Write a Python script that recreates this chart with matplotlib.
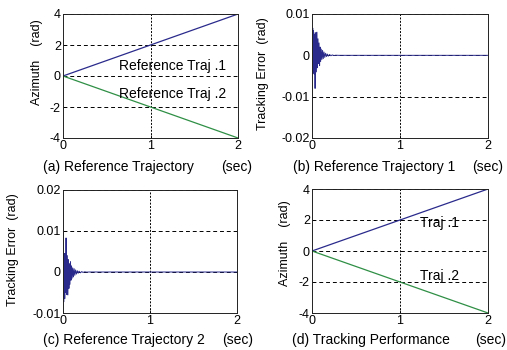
import matplotlib
matplotlib.use("Agg")
import matplotlib.pyplot as plt

plt.rcParams["font.family"] = ["Liberation Sans", "DejaVu Sans"]
FS_TICK = 9
FS_TEXT = 10

# Reference trajectories (rad) vs time (sec)
t_ref = [0, 2]
traj1 = [0, 4]
traj2 = [0, -4]

# Tracking error, trajectory 1 (rad)
t_err1 = [0, 0.002, 0.005, 0.008, 0.011, 0.014, 0.017, 0.020, 0.023, 0.026,
          0.029, 0.032, 0.035, 0.038, 0.041, 0.044, 0.050, 0.056, 0.062, 0.068,
          0.074, 0.080, 0.086, 0.092, 0.098, 0.105, 0.112, 0.120, 0.128, 0.136,
          0.145, 0.155, 0.165, 0.175, 0.185, 0.200, 0.215, 0.230, 0.250, 0.270,
          0.300, 2.0]
err1 = [-0.015, 0.006, -0.004, 0.0066, -0.0045, 0.006, -0.004, 0.0055, -0.004, 0.005,
        -0.0045, 0.0045, -0.008, 0.004, -0.003, 0.0055, -0.004, 0.0056, -0.003, 0.004,
        -0.002, 0.003, -0.0025, 0.002, -0.0015, 0.0015, -0.001, 0.0012, -0.0008, 0.0008,
        -0.0005, 0.0005, -0.0003, 0.0003, -0.0002, 0.0002, -0.0001, 0.0001, -0.00005, 0.00003,
        0, 0]

# Tracking error, trajectory 2 (rad)
t_err2 = [0, 0.002, 0.005, 0.008, 0.011, 0.014, 0.017, 0.020, 0.023, 0.026,
          0.029, 0.032, 0.035, 0.038, 0.041, 0.044, 0.050, 0.056, 0.062, 0.068,
          0.074, 0.080, 0.086, 0.092, 0.098, 0.105, 0.112, 0.120, 0.128, 0.136,
          0.145, 0.155, 0.165, 0.175, 0.185, 0.200, 0.215, 0.230, 0.250, 0.270,
          0.300, 2.0]
err2 = [0.015, -0.007, 0.0047, -0.0073, 0.0045, -0.006, 0.0045, -0.0065, 0.004, -0.005,
        0.0045, -0.0045, 0.0083, -0.004, 0.003, -0.0055, 0.004, -0.0056, 0.003, -0.004,
        0.002, -0.003, 0.0025, -0.002, 0.0015, -0.0015, 0.001, -0.0012, 0.0008, -0.0008,
        0.0005, -0.0005, 0.0003, -0.0003, 0.0002, -0.0002, 0.0001, -0.0001, 0.00005, -0.00003,
        0, 0]

BLUE = "#2a2a8c"
GREEN = "#2f8f45"

fig = plt.figure(figsize=(5.07, 3.5), dpi=100)
W, H = 507, 350


def make_axes(x0, y0, x1, y1):
    return fig.add_axes([x0 / W, 1 - y1 / H, (x1 - x0) / W, (y1 - y0) / H])


def style(ax, yticks, ylim):
    ax.set_xlim(0, 2)
    ax.set_ylim(*ylim)
    ax.set_xticks([0, 1, 2])
    ax.set_xticklabels(["0", "1", "2"])
    ax.set_yticks(yticks)
    ax.tick_params(direction="in", length=2, labelsize=FS_TICK, pad=1.5, width=0.6)
    for y in yticks:
        ax.axhline(y, color="black", lw=0.7, ls=(0, (4, 3)), zorder=0)
    ax.axvline(1, color="black", lw=0.7, ls=(0, (2, 1.5)), zorder=0)
    for s in ax.spines.values():
        s.set_linewidth(0.7)
        s.set_color("#222222")


axa = make_axes(63, 14, 238, 138)
axb = make_axes(312, 14, 488, 138)
axc = make_axes(63, 190, 237, 313)
axd = make_axes(312, 189, 488, 313)

# (a)
axa.plot(t_ref, traj1, color=BLUE, lw=0.9)
axa.plot(t_ref, traj2, color=GREEN, lw=0.9)
style(axa, [-4, -2, 0, 2, 4], (-4, 4))
axa.set_yticklabels(["-4", "-2", "0", "2", "4"])
axa.text(1.25, 0.39, "Reference Traj .1", fontsize=FS_TEXT, ha="center", va="baseline")
axa.text(1.25, -1.42, "Reference Traj .2", fontsize=FS_TEXT, ha="center", va="baseline")

# (b)
axb.plot(t_err1, err1, color=BLUE, lw=0.7)
style(axb, [-0.02, -0.01, 0, 0.01], (-0.02, 0.01))
axb.set_yticklabels(["-0.02", "-0.01", "0", "0.01"])

# (c)
axc.plot(t_err2, err2, color=BLUE, lw=0.7)
style(axc, [-0.01, 0, 0.01, 0.02], (-0.01, 0.02))
axc.set_yticklabels(["-0.01", "0", "0.01", "0.02"])

# (d)
axd.plot(t_ref, traj1, color=BLUE, lw=0.9)
axd.plot(t_ref, traj2, color=GREEN, lw=0.9)
style(axd, [-4, -2, 0, 2, 4], (-4, 4))
axd.set_yticklabels(["-4", "-2", "0", "2", "4"])
axd.text(1.45, 1.55, "Traj .1", fontsize=FS_TEXT, ha="center", va="baseline")
axd.text(1.45, -1.87, "Traj .2", fontsize=FS_TEXT, ha="center", va="baseline")


# axis labels placed in pixel coordinates
def ftext(x, y, s, fs=FS_TEXT, **kw):
    fig.text(x / W, 1 - y / H, s, fontsize=fs, **kw)


ftext(37, 62, "Azimuth    (rad)", fs=9, rotation=90, ha="center", va="center")
ftext(263, 74, "Tracking Error  (rad)", fs=9, rotation=90, ha="center", va="center")
ftext(13, 250, "Tracking Error  (rad)", fs=9, rotation=90, ha="center", va="center")
ftext(285, 243, "Azimuth    (rad)", fs=9, rotation=90, ha="center", va="center")

ftext(43, 171, "(a) Reference Trajectory", ha="left", va="baseline")
ftext(252, 171, "(sec)", ha="right", va="baseline")
ftext(293, 171, "(b) Reference Trajectory 1", ha="left", va="baseline")
ftext(503, 171, "(sec)", ha="right", va="baseline")
ftext(43, 344, "(c) Reference Trajectory 2", ha="left", va="baseline")
ftext(253, 344, "(sec)", ha="right", va="baseline")
ftext(292, 344, "(d) Tracking Performance", ha="left", va="baseline")
ftext(506, 344, "(sec)", ha="right", va="baseline")

fig.savefig("out.png", dpi=100)
